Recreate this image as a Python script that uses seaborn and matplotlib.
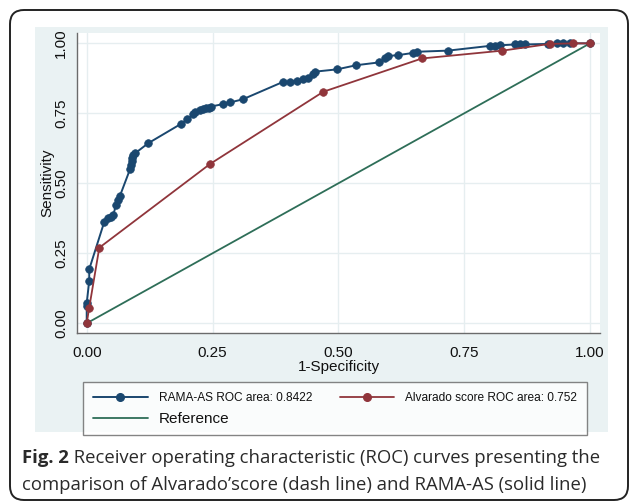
import pandas as pd
import seaborn as sns
import matplotlib.pyplot as plt
from matplotlib.lines import Line2D
from matplotlib.patches import FancyBboxPatch, Rectangle

OUT_PATH = "out.png"

# ROC points (1-specificity, sensitivity)
rama_fpr = [0.0, 0.0, 0.0, 0.005, 0.005, 0.035, 0.043, 0.048, 0.053, 0.058,
            0.063, 0.066, 0.086, 0.088, 0.089, 0.090, 0.092, 0.096, 0.122,
            0.187, 0.200, 0.212, 0.215, 0.225, 0.232, 0.238, 0.242, 0.246,
            0.271, 0.285, 0.310, 0.391, 0.404, 0.417, 0.430, 0.440, 0.449,
            0.454, 0.497, 0.536, 0.581, 0.593, 0.599, 0.619, 0.649, 0.656,
            0.718, 0.801, 0.811, 0.821, 0.851, 0.861, 0.871, 0.917, 0.934,
            0.947, 0.960, 1.0]
rama_tpr = [0.0, 0.06, 0.072, 0.152, 0.193, 0.363, 0.375, 0.381, 0.387, 0.423,
            0.440, 0.455, 0.550, 0.565, 0.580, 0.592, 0.600, 0.607, 0.643,
            0.712, 0.729, 0.747, 0.756, 0.762, 0.765, 0.768, 0.770, 0.774,
            0.783, 0.789, 0.800, 0.863, 0.863, 0.867, 0.871, 0.875, 0.890,
            0.899, 0.907, 0.922, 0.932, 0.946, 0.955, 0.958, 0.966, 0.970,
            0.974, 0.991, 0.991, 0.993, 0.996, 0.996, 0.996, 0.998, 1.0,
            1.0, 1.0, 1.0]

alv_fpr = [0.0, 0.005, 0.025, 0.245, 0.470, 0.666, 0.826, 0.920, 0.967, 1.0]
alv_tpr = [0.0, 0.056, 0.270, 0.569, 0.827, 0.946, 0.974, 0.998, 1.0, 1.0]

ref_fpr = [0.0, 1.0]
ref_tpr = [0.0, 1.0]

LABELS = ["RAMA-AS ROC area: 0.8422", "Alvarado score ROC area: 0.752", "Reference"]
COLORS = ["#1a476f", "#90353b", "#2e6e58"]
TICKS = [0.0, 0.25, 0.5, 0.75, 1.0]
TICK_LABELS = ["0.00", "0.25", "0.50", "0.75", "1.00"]

CAPTION_BOLD = "Fig. 2"
CAPTION_1 = " Receiver operating characteristic (ROC) curves presenting the"
CAPTION_2 = "comparison of Alvarado\u2019score (dash line) and RAMA-AS (solid line)"


def main():
    rama = pd.DataFrame({"fpr": rama_fpr, "tpr": rama_tpr})
    alv = pd.DataFrame({"fpr": alv_fpr, "tpr": alv_tpr})
    ref = pd.DataFrame({"fpr": ref_fpr, "tpr": ref_tpr})

    sns.set_theme(style="white")
    plt.rcParams["font.family"] = ["Liberation Sans", "DejaVu Sans"]

    fig = plt.figure(figsize=(6.29, 5.03), dpi=100)
    fig.patch.set_facecolor("white")

    # stata-like graph region + outer rounded frame
    fig.add_artist(Rectangle((0.35, 0.71), 5.73, 4.05, transform=fig.dpi_scale_trans,
                             facecolor="#eaf2f3", edgecolor="none", zorder=-2))
    fig.add_artist(FancyBboxPatch((0.10, 0.03), 6.18, 4.90,
                                  boxstyle="round,pad=0,rounding_size=0.14",
                                  transform=fig.dpi_scale_trans, fill=False,
                                  edgecolor="#222222", linewidth=1.4, zorder=-1))

    ax = fig.add_axes([0.1229, 0.3386, 0.8310, 0.5958])
    ax.set_facecolor("white")

    sns.lineplot(data=ref, x="fpr", y="tpr", color=COLORS[2], lw=1.3, ax=ax,
                 sort=False, estimator=None)
    sns.lineplot(data=rama, x="fpr", y="tpr", color=COLORS[0], lw=1.4, ax=ax,
                 sort=False, estimator=None, marker="o", markersize=5.5,
                 markeredgecolor=COLORS[0], markeredgewidth=0.5)
    sns.lineplot(data=alv, x="fpr", y="tpr", color=COLORS[1], lw=1.3, ax=ax,
                 sort=False, estimator=None, marker="o", markersize=5.5,
                 markeredgecolor=COLORS[1], markeredgewidth=0.5)

    ax.set_xlim(-0.0187, 1.0199)
    ax.set_ylim(-0.0336, 1.037)
    ax.set_xticks(TICKS, TICK_LABELS)
    ax.set_yticks(TICKS, TICK_LABELS)
    ax.grid(True, color="#e6eef0", lw=1.0)
    ax.set_axisbelow(True)
    for side in ["top", "right"]:
        ax.spines[side].set_visible(False)
    for side in ["left", "bottom"]:
        ax.spines[side].set_color("#6b6b6b")
        ax.spines[side].set_linewidth(1.0)
    ax.tick_params(axis="both", direction="out", length=4.5, width=1.0,
                   color="#6b6b6b", labelsize=11, labelcolor="#111111")
    ax.tick_params(axis="x", pad=5)
    for lab in ax.get_yticklabels():
        lab.set_rotation(90)
        lab.set_va("center")
        lab.set_ha("center")
    ax.yaxis.set_tick_params(pad=7)

    ax.set_xlabel("1-Specificity", fontsize=11, color="#111111", labelpad=0)
    ax.set_ylabel("Sensitivity", fontsize=11, color="#111111", labelpad=0)

    handles = [
        Line2D([], [], color=COLORS[0], lw=1.4, marker="o", markersize=5.5),
        Line2D([], [], color=COLORS[2], lw=1.3),
        Line2D([], [], color=COLORS[1], lw=1.3, marker="o", markersize=5.5),
    ]
    labels = [LABELS[0], LABELS[2], LABELS[1]]
    leg = fig.legend(handles, labels, loc="upper left", ncol=2,
                     bbox_to_anchor=(83.3 / 629, 1 - 382.3 / 503),
                     fontsize=8.6, frameon=True, fancybox=False, handlelength=4.6,
                     handletextpad=0.9, borderpad=0.8, labelspacing=0.65,
                     columnspacing=2.3, borderaxespad=0)
    leg.get_frame().set_edgecolor("#666666")
    leg.get_frame().set_linewidth(1.0)
    leg.get_texts()[1].set_fontsize(11)
    for t in leg.get_texts():
        t.set_color("#111111")

    # caption
    cap_kw = dict(fontsize=13.3, family=["Open Sans", "DejaVu Sans"], va="center",
                  color="#2a2a2a")
    bold = fig.text(22 / 629, 1 - 458 / 503, CAPTION_BOLD, weight="bold", **cap_kw)
    fig.canvas.draw()
    bb = bold.get_window_extent(fig.canvas.get_renderer())
    fig.text(bb.x1 / fig.bbox.width, 1 - 458 / 503, CAPTION_1, **cap_kw)
    fig.text(22 / 629, 1 - 485 / 503, CAPTION_2, **cap_kw)

    fig.savefig(OUT_PATH, dpi=100)
    print(f"saved to {OUT_PATH}")


if __name__ == "__main__":
    main()
